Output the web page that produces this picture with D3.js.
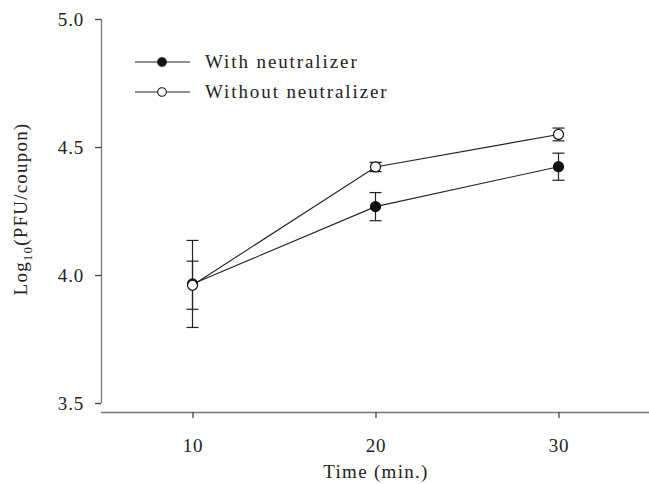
<!DOCTYPE html>
<html>
<head>
<meta charset="utf-8">
<script src="https://cdnjs.cloudflare.com/ajax/libs/d3/7.8.5/d3.min.js"></script>
<style>
  body { margin: 0; background: #fff; }
  text { font-family: "Liberation Serif", "DejaVu Serif", serif; fill: #222; }
</style>
</head>
<body>
<script>
  var times = [10, 20, 30];
  var withMean = [3.965, 4.267, 4.423];
  var withErr = [0.17, 0.055, 0.053];
  var withoutMean = [3.96, 4.422, 4.549];
  var withoutErr = [0.094, 0.018, 0.025];
  var xTicks = [10, 20, 30];
  var yTicks = [3.5, 4.0, 4.5, 5.0];

  var series = [
    { name: "With neutralizer", fill: "#111", mean: withMean, err: withErr },
    { name: "Without neutralizer", fill: "#fff", mean: withoutMean, err: withoutErr }
  ];

  var W = 649, H = 484;
  var svg = d3.select("body").append("svg")
    .attr("width", W).attr("height", H);

  var x = d3.scaleLinear().domain([5, 35]).range([101, 650]);
  var y = d3.scaleLinear().domain([3.5, 5.0]).range([403, 19]);

  // y axis
  var yAxis = svg.append("g")
    .attr("transform", "translate(101,0)")
    .call(d3.axisLeft(y).tickValues(yTicks).tickFormat(d3.format(".1f")).tickSize(6).tickPadding(11));
  // x axis (offset below)
  var xAxis = svg.append("g")
    .attr("transform", "translate(0,412)")
    .call(d3.axisBottom(x).tickValues(xTicks).tickSize(6).tickPadding(21));

  [yAxis, xAxis].forEach(function(a) {
    a.select(".domain").attr("stroke", "#777").attr("stroke-width", 1.3);
    a.selectAll(".tick line").attr("stroke", "#444").attr("stroke-width", 1.3);
    a.selectAll(".tick text").style("font-size", "19px")
      .style("letter-spacing", "0.8px")
      .style("font-family", "'Liberation Serif', serif").attr("fill", "#222");
  });
  yAxis.select(".domain").attr("d", "M0.5,19V403");
  xAxis.select(".domain").attr("d", "M101,0.5H650");

  // axis titles
  svg.append("text")
    .attr("x", 376).attr("y", 478)
    .attr("text-anchor", "middle")
    .style("font-size", "19px")
    .style("letter-spacing", "1.3px")
    .text("Time (min.)");

  var yl = svg.append("text")
    .attr("transform", "translate(27,209) rotate(-90)")
    .attr("text-anchor", "middle")
    .style("font-size", "19px")
    .style("letter-spacing", "1.2px");
  yl.append("tspan").text("Log");
  yl.append("tspan").attr("dy", 5).style("font-size", "13px").text("10");
  yl.append("tspan").attr("dy", -5).text("(PFU/coupon)");

  var line = d3.line()
    .x(function(d) { return x(d.t); })
    .y(function(d) { return y(d.v); });

  series.forEach(function(s) {
    var pts = times.map(function(t, i) { return { t: t, v: s.mean[i], e: s.err[i] }; });
    var g = svg.append("g");

    g.append("path").datum(pts)
      .attr("d", line)
      .attr("fill", "none")
      .attr("stroke", "#222")
      .attr("stroke-width", 1.1);

    var eb = g.selectAll(".eb").data(pts).enter().append("g");
    eb.append("line")
      .attr("x1", function(d) { return x(d.t); })
      .attr("x2", function(d) { return x(d.t); })
      .attr("y1", function(d) { return y(d.v + d.e); })
      .attr("y2", function(d) { return y(d.v - d.e); })
      .attr("stroke", "#222").attr("stroke-width", 1.2);
    [1, -1].forEach(function(sg) {
      eb.append("line")
        .attr("x1", function(d) { return x(d.t) - 6; })
        .attr("x2", function(d) { return x(d.t) + 6; })
        .attr("y1", function(d) { return y(d.v + sg * d.e); })
        .attr("y2", function(d) { return y(d.v + sg * d.e); })
        .attr("stroke", "#222").attr("stroke-width", 1.2);
    });

    g.selectAll("circle").data(pts).enter().append("circle")
      .attr("cx", function(d) { return x(d.t); })
      .attr("cy", function(d) { return y(d.v); })
      .attr("r", 5)
      .attr("fill", s.fill)
      .attr("stroke", "#111")
      .attr("stroke-width", 1.2);
  });

  // legend
  var leg = svg.append("g");
  series.forEach(function(s, i) {
    var ly = 62 + i * 30;
    leg.append("line")
      .attr("x1", 135).attr("x2", 190)
      .attr("y1", ly).attr("y2", ly)
      .attr("stroke", "#222").attr("stroke-width", 1.1);
    leg.append("circle")
      .attr("cx", 162).attr("cy", ly).attr("r", 4.3)
      .attr("fill", s.fill).attr("stroke", "#111").attr("stroke-width", 1.1);
    leg.append("text")
      .attr("x", 205).attr("y", ly + 6)
      .style("font-size", "19px")
      .style("letter-spacing", "1.9px")
      .text(s.name);
  });
</script>
</body>
</html>
